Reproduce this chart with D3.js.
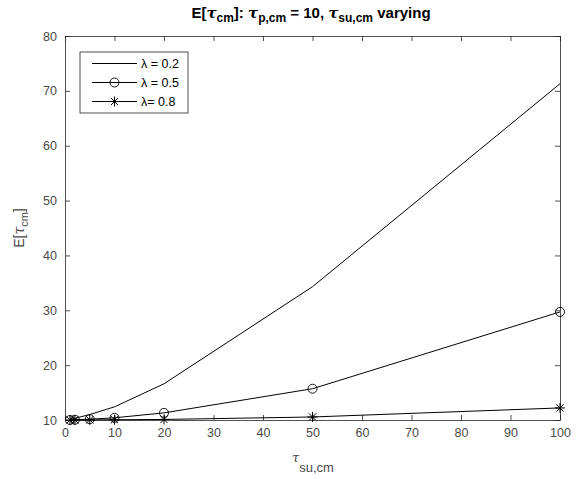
<!DOCTYPE html>
<html>
<head>
<meta charset="utf-8">
<script src="https://cdn.jsdelivr.net/npm/d3@7"></script>
<style>
  html, body { margin: 0; padding: 0; background: #fff; }
  svg { display: block; font-family: "Liberation Sans", Arial, Helvetica, sans-serif; }
</style>
</head>
<body>
<svg id="chart" width="579" height="479"></svg>
<script>
// Setup time values (tau_su,cm) at which the expectation was evaluated
const tauSu = [1, 2, 5, 10, 20, 50, 100];

// Expected completion time E[tau_cm] for each lambda
const lambda02 = [10.1, 10.3, 11.0, 12.4, 16.6, 34.3, 71.3];
const lambda05 = [10.0, 10.05, 10.15, 10.4, 11.3, 15.7, 29.7];
const lambda08 = [10.0, 10.0, 10.02, 10.05, 10.1, 10.55, 12.2];

const seriesLabels = ["\u03bb = 0.2", "\u03bb = 0.5", "\u03bb= 0.8"];
const xTicks = [0, 10, 20, 30, 40, 50, 60, 70, 80, 90, 100];
const yTicks = [10, 20, 30, 40, 50, 60, 70, 80];

const svg = d3.select("#chart");
const plotL = 65, plotR = 560, plotT = 36, plotB = 420;

const x = d3.scaleLinear().domain([0, 100]).range([plotL, plotR]);
const y = d3.scaleLinear().domain([10, 80]).range([plotB, plotT]);

const axisColor = "#262626";
const labelColor = "#4a4a4a";

// Axes with inward ticks on all four sides (box on)
function styleAxis(g) {
  g.select(".domain").attr("stroke", axisColor).attr("stroke-width", 0.8);
  g.selectAll(".tick line").attr("stroke", axisColor).attr("stroke-width", 0.8);
  g.selectAll(".tick text").attr("fill", labelColor).attr("font-size", 12.5)
    .attr("font-family", "Liberation Sans, Arial, sans-serif");
}

svg.append("g").attr("transform", `translate(0,${plotB})`)
  .call(d3.axisBottom(x).tickValues(xTicks).tickSizeInner(-5).tickSizeOuter(0).tickPadding(8))
  .call(styleAxis);
svg.append("g").attr("transform", `translate(0,${plotT})`)
  .call(d3.axisTop(x).tickValues(xTicks).tickSizeInner(-5).tickSizeOuter(0).tickFormat(""))
  .call(styleAxis);
svg.append("g").attr("transform", `translate(${plotL},0)`)
  .call(d3.axisLeft(y).tickValues(yTicks).tickSizeInner(-5).tickSizeOuter(0).tickPadding(8))
  .call(styleAxis);
svg.append("g").attr("transform", `translate(${plotR},0)`)
  .call(d3.axisRight(y).tickValues(yTicks).tickSizeInner(-5).tickSizeOuter(0).tickFormat(""))
  .call(styleAxis);

// Data lines
const line = d3.line().x((d, i) => x(tauSu[i])).y(d => y(d));
const series = [lambda02, lambda05, lambda08];
const plot = svg.append("g");
series.forEach(vals => {
  plot.append("path").datum(vals).attr("d", line)
    .attr("fill", "none").attr("stroke", "#000").attr("stroke-width", 1);
});

// Markers
function circleMarker(g, cx, cy) {
  g.append("circle").attr("cx", cx).attr("cy", cy).attr("r", 4.5)
    .attr("fill", "none").attr("stroke", "#000").attr("stroke-width", 0.9);
}
function starMarker(g, cx, cy) {
  const r = 5;
  const p = d3.path();
  p.moveTo(cx - r, cy); p.lineTo(cx + r, cy);
  p.moveTo(cx, cy - r); p.lineTo(cx, cy + r);
  const k = r * 0.72;
  p.moveTo(cx - k, cy - k); p.lineTo(cx + k, cy + k);
  p.moveTo(cx - k, cy + k); p.lineTo(cx + k, cy - k);
  g.append("path").attr("d", p.toString()).attr("stroke", "#000").attr("stroke-width", 1).attr("fill", "none");
}
lambda05.forEach((v, i) => circleMarker(plot, x(tauSu[i]), y(v)));
lambda08.forEach((v, i) => starMarker(plot, x(tauSu[i]), y(v)));

// Legend
const lg = svg.append("g");
lg.append("rect").attr("x", 80).attr("y", 52).attr("width", 108).attr("height", 61)
  .attr("fill", "#fff").attr("stroke", axisColor).attr("stroke-width", 0.8);
const rowsY = [63.5, 82.5, 101.5];
seriesLabels.forEach((lab, i) => {
  lg.append("line").attr("x1", 92).attr("x2", 137).attr("y1", rowsY[i]).attr("y2", rowsY[i])
    .attr("stroke", "#000").attr("stroke-width", 1);
  if (i === 1) circleMarker(lg, 114.5, rowsY[i]);
  if (i === 2) starMarker(lg, 114.5, rowsY[i]);
  lg.append("text").attr("x", 141).attr("y", rowsY[i] + 4.5).attr("font-size", 12.5)
    .attr("fill", "#000").text(lab);
});

// Title
const title = svg.append("text").attr("x", 311).attr("y", 18).attr("text-anchor", "middle")
  .attr("font-size", 15).attr("font-weight", "bold").attr("fill", "#000");
title.append("tspan").text("E[");
title.append("tspan").attr("font-style", "italic").attr("font-family", "DejaVu Serif, serif").text("\u03c4");
title.append("tspan").attr("dy", 4).attr("font-size", 12).text("cm");
title.append("tspan").attr("dy", -4).text("]: ");
title.append("tspan").attr("font-style", "italic").attr("font-family", "DejaVu Serif, serif").text("\u03c4");
title.append("tspan").attr("dy", 4).attr("font-size", 12).text("p,cm");
title.append("tspan").attr("dy", -4).text(" = 10, ");
title.append("tspan").attr("font-style", "italic").attr("font-family", "DejaVu Serif, serif").text("\u03c4");
title.append("tspan").attr("dy", 4).attr("font-size", 12).text("su,cm");
title.append("tspan").attr("dy", -4).text(" varying");

// X axis label
const xl = svg.append("text").attr("x", 313).attr("y", 462).attr("text-anchor", "middle")
  .attr("font-size", 13).attr("fill", labelColor);
xl.append("tspan").attr("font-style", "italic").attr("font-family", "DejaVu Serif, serif").text("\u03c4");
xl.append("tspan").attr("dy", 10).text("su,cm");

// Y axis label
const yl = svg.append("text").attr("transform", `translate(24,228) rotate(-90)`)
  .attr("text-anchor", "middle").attr("font-size", 14).attr("fill", labelColor);
yl.append("tspan").text("E[");
yl.append("tspan").attr("font-style", "italic").attr("font-family", "DejaVu Serif, serif").text("\u03c4");
yl.append("tspan").attr("dy", 4).attr("font-size", 11).text("cm");
yl.append("tspan").attr("dy", -4).text("]");
</script>
</body>
</html>
